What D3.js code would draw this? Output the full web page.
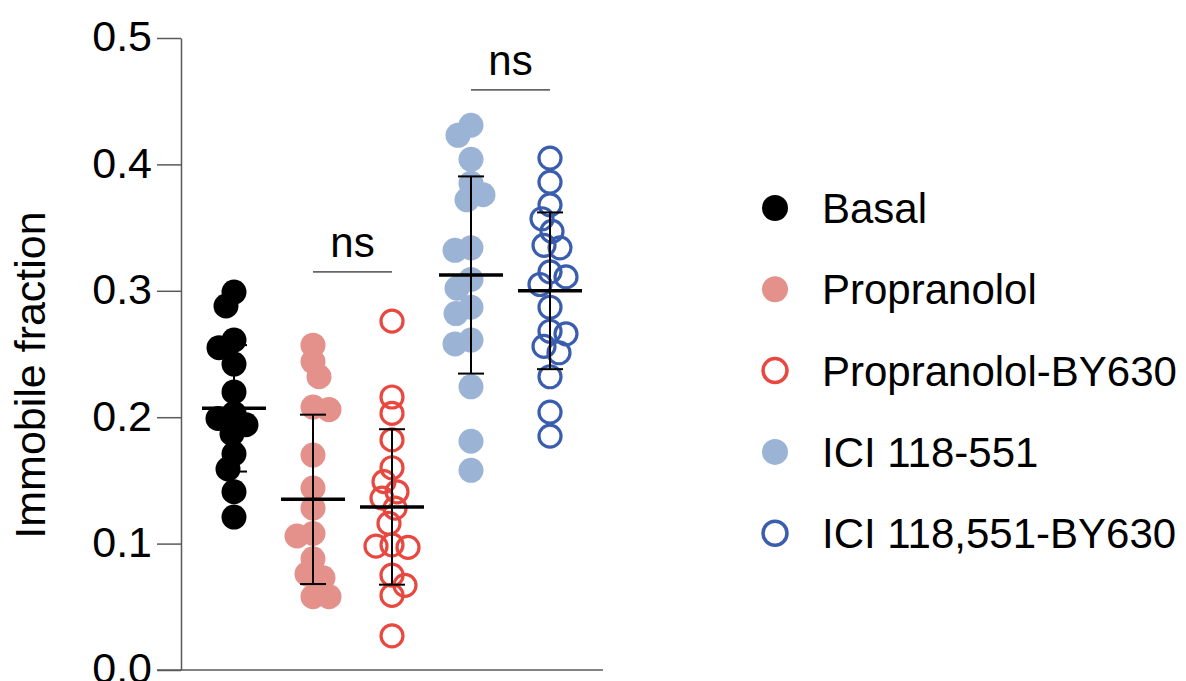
<!DOCTYPE html>
<html>
<head>
<meta charset="utf-8">
<script src="https://cdn.jsdelivr.net/npm/d3@7"></script>
<style>
  html, body { margin: 0; padding: 0; background: #fff; }
  svg { display: block; font-family: "Liberation Sans", Arial, sans-serif; }
</style>
</head>
<body>
<svg id="chart" width="1186" height="681"></svg>
<script>
// Treatment groups, in plotting order
const groups = ["Basal", "Propranolol", "Propranolol-BY630", "ICI 118-551", "ICI 118,551-BY630"];

// Immobile fraction per cell, one array per group
const basal = [0.299, 0.288, 0.261, 0.255, 0.242, 0.220, 0.203, 0.199, 0.194, 0.187, 0.171, 0.159, 0.141, 0.121];
const propranolol = [0.257, 0.244, 0.232, 0.208, 0.206, 0.170, 0.144, 0.128, 0.108, 0.106, 0.088, 0.076, 0.073, 0.058, 0.058];
const propranololBY630 = [0.276, 0.216, 0.203, 0.182, 0.160, 0.149, 0.141, 0.136, 0.128, 0.116, 0.099, 0.098, 0.097, 0.075, 0.067, 0.059, 0.027];
const ici118551 = [0.431, 0.423, 0.404, 0.385, 0.376, 0.372, 0.334, 0.332, 0.309, 0.302, 0.287, 0.282, 0.261, 0.258, 0.224, 0.181, 0.158];
const ici118551BY630 = [0.405, 0.386, 0.368, 0.357, 0.347, 0.336, 0.334, 0.315, 0.311, 0.305, 0.287, 0.268, 0.266, 0.256, 0.251, 0.232, 0.204, 0.185];

// Group summary: mean and standard deviation
const means = [0.207, 0.135, 0.129, 0.3125, 0.300];
const sds = [0.050, 0.067, 0.0615, 0.078, 0.062];

// Y axis tick values
const yTicks = [0.0, 0.1, 0.2, 0.3, 0.4, 0.5];

// Pairwise comparisons shown above the groups
const comparisons = [
  { from: "Propranolol", to: "Propranolol-BY630", level: 0.315, label: "ns" },
  { from: "ICI 118-551", to: "ICI 118,551-BY630", level: 0.459, label: "ns" }
];

const seriesValues = [basal, propranolol, propranololBY630, ici118551, ici118551BY630];

// Marker appearance per group
const styles = [
  { color: "#000000", filled: true },
  { color: "#E3918A", filled: true },
  { color: "#E8483F", filled: false },
  { color: "#9BB4D5", filled: true },
  { color: "#3A5DAE", filled: false }
];

const svg = d3.select("#chart");

const y = d3.scaleLinear().domain([0, 0.5]).range([670, 38]);
const x = d3.scalePoint().domain(groups).range([234, 550]);

const axisColor = "#5a5a5a";
const axisX = 181;
const tickLen = 24;

// Y axis
const yAxis = svg.append("g")
  .attr("transform", `translate(${axisX},0)`)
  .call(d3.axisLeft(y).tickValues(yTicks).tickFormat(d3.format(".1f")).tickSize(tickLen).tickSizeOuter(0).tickPadding(5));
yAxis.select(".domain").attr("stroke", axisColor).attr("stroke-width", 1.5);
yAxis.selectAll(".tick line").attr("stroke", axisColor).attr("stroke-width", 1.5);
yAxis.selectAll(".tick text")
  .attr("fill", "#000")
  .attr("dy", "0.3em")
  .style("font-size", "43px")
  .style("font-family", "'Liberation Sans', Arial, sans-serif");

// X axis baseline
svg.append("line")
  .attr("x1", axisX - tickLen).attr("x2", 603)
  .attr("y1", y(0)).attr("y2", y(0))
  .attr("stroke", axisColor).attr("stroke-width", 1.5);

// Y axis title
svg.append("text")
  .attr("transform", `translate(45,${(y(0.0) + y(0.5)) / 2 + 21}) rotate(-90)`)
  .attr("text-anchor", "middle")
  .style("font-size", "43px")
  .attr("fill", "#000")
  .text("Immobile fraction");

// Beeswarm-style horizontal spread so overlapping cells stay visible
function spread(values, cx, minDist) {
  const placed = [];
  const out = new Array(values.length);
  const order = d3.range(values.length).sort((a, b) => values[b] - values[a]);
  order.forEach((i, n) => {
    const py = y(values[i]);
    const sign = n % 2 === 0 ? 1 : -1;
    let off = 0;
    for (let k = 0; k < 80; k++) {
      const cands = k === 0 ? [0] : [sign * k, -sign * k];
      let ok = null;
      for (const c of cands) {
        const px = cx + c;
        if (placed.every(p => Math.hypot(p.x - px, p.y - py) >= minDist)) { ok = c; break; }
      }
      if (ok !== null) { off = ok; break; }
    }
    const pt = { x: cx + off, y: py };
    placed.push(pt);
    out[i] = pt;
  });
  return out;
}

const radiusFilled = 12.5;
const radiusOpen = 11;

const pointsLayer = svg.append("g");
groups.forEach((g, gi) => {
  const st = styles[gi];
  const pts = spread(seriesValues[gi], x(g), 16);
  pointsLayer.append("g")
    .selectAll("circle")
    .data(pts)
    .join("circle")
    .attr("cx", d => d.x)
    .attr("cy", d => d.y)
    .attr("r", st.filled ? radiusFilled : radiusOpen)
    .attr("fill", st.filled ? st.color : "none")
    .attr("stroke", st.filled ? "none" : st.color)
    .attr("stroke-width", st.filled ? 0 : 3.2);
});

// Mean line and SD error bars
const summary = groups.map((g, i) => ({ g, mean: means[i], sd: sds[i] }));
const bars = svg.append("g").selectAll("g").data(summary).join("g");
bars.append("line")
  .attr("x1", d => x(d.g)).attr("x2", d => x(d.g))
  .attr("y1", d => y(d.mean + d.sd)).attr("y2", d => y(d.mean - d.sd))
  .attr("stroke", "#000").attr("stroke-width", 2);
bars.append("line")
  .attr("x1", d => x(d.g) - 13).attr("x2", d => x(d.g) + 13)
  .attr("y1", d => y(d.mean + d.sd)).attr("y2", d => y(d.mean + d.sd))
  .attr("stroke", "#000").attr("stroke-width", 2);
bars.append("line")
  .attr("x1", d => x(d.g) - 13).attr("x2", d => x(d.g) + 13)
  .attr("y1", d => y(d.mean - d.sd)).attr("y2", d => y(d.mean - d.sd))
  .attr("stroke", "#000").attr("stroke-width", 2);
bars.append("line")
  .attr("x1", d => x(d.g) - 32).attr("x2", d => x(d.g) + 32)
  .attr("y1", d => y(d.mean)).attr("y2", d => y(d.mean))
  .attr("stroke", "#000").attr("stroke-width", 3.5);

// Significance brackets
const sig = svg.append("g").selectAll("g").data(comparisons).join("g");
sig.append("line")
  .attr("x1", d => x(d.from)).attr("x2", d => x(d.to))
  .attr("y1", d => y(d.level)).attr("y2", d => y(d.level))
  .attr("stroke", "#666").attr("stroke-width", 1.8);
sig.append("text")
  .attr("x", d => (x(d.from) + x(d.to)) / 2)
  .attr("y", d => y(d.level) - 15)
  .attr("text-anchor", "middle")
  .style("font-size", "42px")
  .attr("fill", "#000")
  .text(d => d.label);

// Legend
const legend = svg.append("g").attr("transform", "translate(775,208)");
const rows = legend.selectAll("g").data(groups).join("g")
  .attr("transform", (d, i) => `translate(0,${i * 81.3})`);
rows.append("circle")
  .attr("r", (d, i) => styles[i].filled ? 13 : 12)
  .attr("fill", (d, i) => styles[i].filled ? styles[i].color : "none")
  .attr("stroke", (d, i) => styles[i].filled ? "none" : styles[i].color)
  .attr("stroke-width", (d, i) => styles[i].filled ? 0 : 3.5);
rows.append("text")
  .attr("x", 47)
  .attr("y", 15)
  .style("font-size", "42px")
  .attr("fill", "#000")
  .text(d => d);
</script>
</body>
</html>
